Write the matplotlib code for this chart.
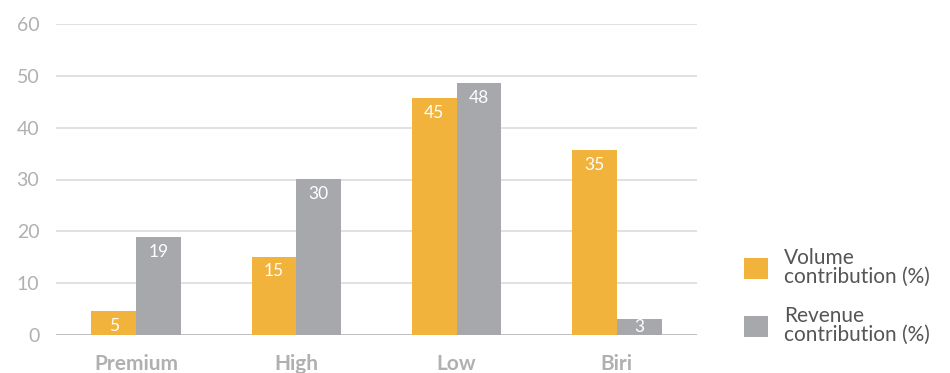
import matplotlib.pyplot as plt
import numpy as np

categories = ["Premium", "High", "Low", "Biri"]
volume = [4.6, 15.1, 45.7, 35.7]
revenue = [18.9, 30.1, 48.6, 3.1]
volume_labels = ["5", "15", "45", "35"]
revenue_labels = ["19", "30", "48", "3"]
yticks = [0, 10, 20, 30, 40, 50, 60]

ORANGE = "#f2b33d"
GREY = "#a7a8ab"
TICK = "#b0b0b0"

plt.rcParams["font.family"] = ["Lato", "DejaVu Sans"]

fig = plt.figure(figsize=(9.5, 3.73), dpi=100)
ax = fig.add_axes([56 / 950, 38 / 373, 641 / 950, 311 / 373])

x = np.arange(len(categories))
w = 0.28
b1 = ax.bar(x - w / 2, volume, w, color=ORANGE, label="Volume\ncontribution (%)", zorder=3)
b2 = ax.bar(x + w / 2, revenue, w, color=GREY, label="Revenue\ncontribution (%)", zorder=3)

for bars, labels in [(b1, volume_labels), (b2, revenue_labels)]:
    for bar, lab in zip(bars, labels):
        h = bar.get_height()
        # short bars get their label centred instead of hanging from the top
        if h < 4:
            pos, off = h / 2, 0
        else:
            pos, off = h, -10.5
        ax.annotate(lab, (bar.get_x() + bar.get_width() / 2, pos),
                    xytext=(0, off), textcoords="offset points",
                    ha="center", va="center", color="white", fontsize=12.5, zorder=4)

ax.set_xlim(-0.5, 3.5)
ax.set_ylim(0, 60)
ax.set_yticks(yticks)
ax.yaxis.grid(True, color="#dcdcdc", linewidth=1.2, zorder=0)
ax.axhline(0, color="#bdbdbd", linewidth=2, zorder=2)
for s in ax.spines.values():
    s.set_visible(False)
ax.tick_params(axis="y", length=0, pad=12, labelsize=14, labelcolor=TICK)
ax.tick_params(axis="x", length=0, pad=14)
ax.set_xticks(x)
ax.set_xticklabels(categories, fontsize=15, fontweight="bold", color=TICK)

leg = ax.legend(loc="center left", bbox_to_anchor=(725 / 950, 0.205),
                bbox_transform=fig.transFigure, frameon=False, fontsize=15,
                handlelength=1.15, handleheight=1.15, handletextpad=0.8,
                labelspacing=0.9)
for t in leg.get_texts():
    t.set_color("#555555")
    t.set_linespacing(0.95)

fig.savefig("out.png", dpi=100)
